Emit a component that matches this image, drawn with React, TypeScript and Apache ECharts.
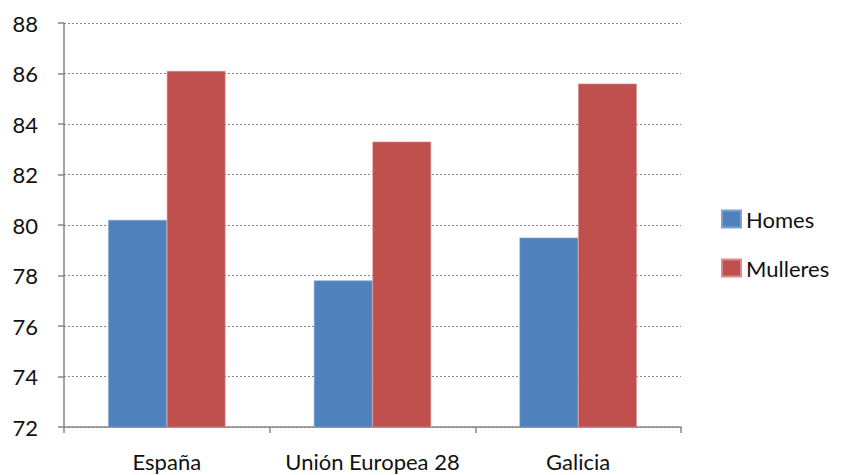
import React, { useEffect, useRef } from "react";
import * as echarts from "echarts";

const categories = ["España", "Unión Europea 28", "Galicia"];
const homes = [80.2, 77.8, 79.5];
const mulleres = [86.1, 83.3, 85.6];
const seriesNames = ["Homes", "Mulleres"];
const yMin = 72;
const yMax = 88;
const yStep = 2;

export default function App() {
  const ref = useRef<HTMLDivElement>(null);
  useEffect(() => {
    if (!ref.current) return;
    const chart = echarts.init(ref.current, undefined, { renderer: "svg" });
    const font = "Lato, 'Open Sans', sans-serif";
    chart.setOption({
      animation: false,
      backgroundColor: "#ffffff",
      grid: { left: 64, right: 160, top: 23, bottom: 48, containLabel: false },
      legend: {
        orient: "vertical",
        left: 716,
        top: 203,
        itemWidth: 19,
        itemHeight: 17,
        itemGap: 27,
        icon: "rect",
        textStyle: { fontFamily: font, fontSize: 22, lineHeight: 22, color: "#111" },
        data: seriesNames,
      },
      xAxis: {
        type: "category",
        data: categories,
        axisLine: { lineStyle: { color: "#868686", width: 1.5 } },
        axisTick: { show: true, length: 6, alignWithLabel: false, lineStyle: { color: "#868686", width: 1.5 } },
        axisLabel: { interval: 0, fontFamily: font, fontSize: 22, color: "#111", margin: 23 },
        splitLine: { show: false },
      },
      yAxis: {
        type: "value",
        min: yMin,
        max: yMax,
        interval: yStep,
        axisLine: { show: true, lineStyle: { color: "#868686", width: 1.5 } },
        axisTick: { show: true, length: 6, lineStyle: { color: "#868686", width: 1.5 } },
        axisLabel: { fontFamily: font, fontSize: 22, color: "#111", margin: 26 },
        splitLine: { show: true, lineStyle: { color: "#8a8a8a", type: [2, 2], width: 1.2 } },
      },
      series: [
        {
          name: seriesNames[0],
          type: "bar",
          data: homes,
          barGap: "0%",
          barCategoryGap: "43%",
          itemStyle: { color: "#4F81BD", borderColor: "#7FA2CF", borderWidth: 0.6 },
        },
        {
          name: seriesNames[1],
          type: "bar",
          data: mulleres,
          barGap: "0%",
          barCategoryGap: "43%",
          itemStyle: { color: "#C0504D", borderColor: "#D98C8A", borderWidth: 0.6 },
        },
      ],
    });
    return () => chart.dispose();
  }, []);
  return <div ref={ref} style={{ width: 841, height: 475, position: "absolute", left: 0, top: 0 }} />;
}
